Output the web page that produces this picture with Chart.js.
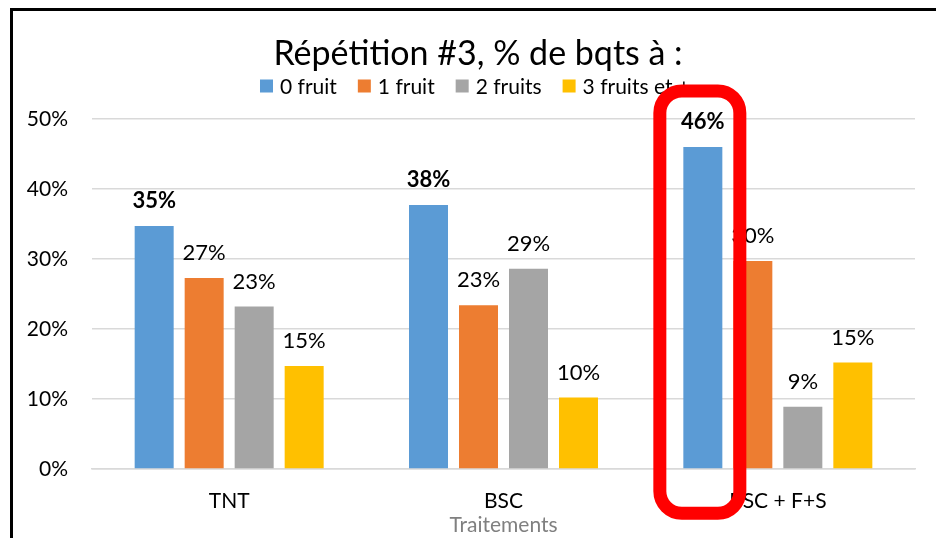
<!DOCTYPE html>
<html>
<head>
<meta charset="utf-8">
<script src="https://cdn.jsdelivr.net/npm/chart.js@4/dist/chart.umd.min.js"></script>
<style>
  body { margin: 0; background: #fff; }
  #wrap { position: absolute; left: 0; top: 0; width: 936px; height: 538px; }
  #frame { position: absolute; left: 10px; top: 8px; right: 0; bottom: 0; border-top: 3px solid #000; border-left: 3px solid #000; pointer-events: none; }
</style>
</head>
<body>
<div id="wrap">
  <canvas id="chart" width="936" height="538"></canvas>
  <div id="frame"></div>
</div>
<script>
// categories and values (percent)
var categories = ['TNT', 'BSC', 'BSC + F+S'];
var seriesNames = ['0 fruit', '1 fruit', '2 fruits', '3 fruits et +'];
var fruit0 = [34.7, 37.7, 46.0];
var fruit1 = [27.3, 23.4, 29.7];
var fruit2 = [23.2, 28.6, 8.9];
var fruit3 = [14.7, 10.2, 15.2];
var yTicks = [0, 10, 20, 30, 40, 50];
var chartTitle = 'Répétition #3, % de bqts à :';
var colors = ['#5B9BD5', '#ED7D31', '#A5A5A5', '#FFC000'];

var FONT = 'Lato, "Open Sans", sans-serif';

// Value labels above each bar (first series in bold)
var valueLabels = {
    id: 'valueLabels',
    afterDatasetsDraw: function (chart) {
        var ctx = chart.ctx;
        ctx.save();
        ctx.textAlign = 'center';
        ctx.textBaseline = 'alphabetic';
        ctx.fillStyle = '#000';
        chart.data.datasets.forEach(function (ds, i) {
            var meta = chart.getDatasetMeta(i);
            ctx.font = (i === 0 ? 'bold ' : '') + '22px ' + FONT;
            meta.data.forEach(function (bar, j) {
                ctx.fillText(Math.round(ds.data[j]) + '%', bar.x, bar.y - 18);
            });
        });
        ctx.restore();
    }
};

// Title and legend drawn by hand, both a little right of the canvas centre like the original
var header = {
    id: 'header',
    afterDraw: function (chart) {
        var ctx = chart.ctx;
        var cx = 478;
        ctx.save();
        ctx.fillStyle = '#000';
        ctx.font = '34px ' + FONT;
        ctx.textAlign = 'center';
        ctx.textBaseline = 'alphabetic';
        ctx.fillText(chartTitle, cx, 65);

        ctx.font = '21px ' + FONT;
        ctx.textAlign = 'left';
        ctx.textBaseline = 'middle';
        var box = 13, gap = 7, spacing = 21;
        var widths = chart.data.datasets.map(function (ds) { return box + gap + ctx.measureText(ds.label).width; });
        var total = widths.reduce(function (a, b) { return a + b; }, 0) + spacing * (widths.length - 1);
        var x = cx - 3 - total / 2;
        var y = 86;
        chart.data.datasets.forEach(function (ds, i) {
            ctx.fillStyle = ds.backgroundColor;
            ctx.fillRect(x, y - box / 2, box, box);
            ctx.fillStyle = '#000';
            ctx.fillText(ds.label, x + box + gap, y + 1);
            x += widths[i] + spacing;
        });
        ctx.restore();
    }
};

// Red highlight around the blue bar of the last group
var highlight = {
    id: 'highlight',
    afterDraw: function (chart) {
        var bar = chart.getDatasetMeta(0).data[2];
        var ctx = chart.ctx;
        var l = bar.x - 43, r = bar.x + 37;
        var t = bar.y - 56, b = bar.base + 45;
        ctx.save();
        ctx.strokeStyle = '#FF0000';
        ctx.lineWidth = 13;
        ctx.beginPath();
        ctx.roundRect(l, t, r - l, b - t, 22);
        ctx.stroke();
        ctx.restore();
    }
};

var ctx = document.getElementById('chart').getContext('2d');
var chart = new Chart(ctx, {
    type: 'bar',
    data: {
        labels: categories,
        datasets: [
            { label: seriesNames[0], data: fruit0, backgroundColor: colors[0] },
            { label: seriesNames[1], data: fruit1, backgroundColor: colors[1] },
            { label: seriesNames[2], data: fruit2, backgroundColor: colors[2] },
            { label: seriesNames[3], data: fruit3, backgroundColor: colors[3] }
        ]
    },
    options: {
        responsive: false,
        animation: false,
        devicePixelRatio: 1,
        layout: { padding: { left: 0, right: 21, top: 119, bottom: 0 } },
        datasets: {
            bar: { categoryPercentage: 0.729, barPercentage: 0.78, borderWidth: 0 }
        },
        scales: {
            x: {
                grid: { display: false },
                border: { display: true, color: '#D9D9D9', width: 1.5 },
                ticks: { color: '#000', font: { family: FONT, size: 21 }, padding: 12 },
                title: {
                    display: true,
                    text: 'Traitements',
                    color: '#808080',
                    font: { family: FONT, size: 21 },
                    padding: { top: 0, bottom: 0 }
                },
                afterFit: function (scale) { scale.height = 69; }
            },
            y: {
                min: 0,
                max: 50,
                afterBuildTicks: function (scale) {
                    scale.ticks = yTicks.map(function (v) { return { value: v }; });
                },
                grid: { color: '#D9D9D9', lineWidth: 1.5, drawTicks: false },
                border: { display: false },
                ticks: {
                    color: '#000',
                    font: { family: FONT, size: 21 },
                    padding: 24,
                    callback: function (value) { return value + '%'; }
                },
                afterFit: function (scale) { scale.width = 92; }
            }
        },
        plugins: {
            legend: { display: false },
            tooltip: { enabled: false },
            title: { display: false }
        }
    },
    plugins: [valueLabels, header, highlight]
});
</script>
</body>
</html>
